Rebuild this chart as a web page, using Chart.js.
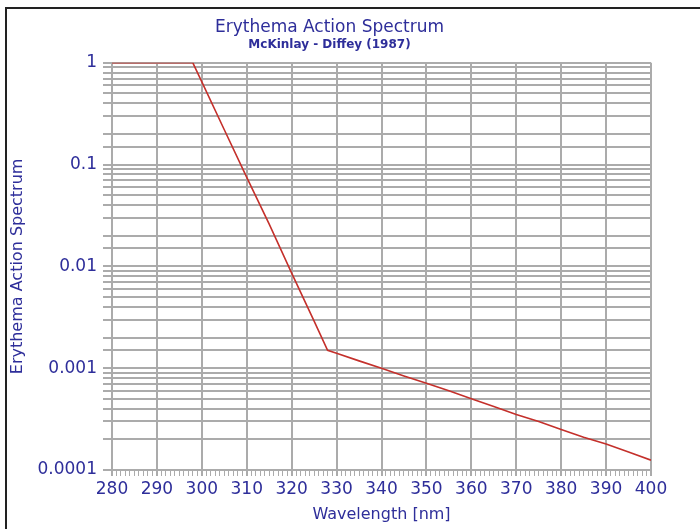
<!DOCTYPE html>
<html>
<head>
<meta charset="utf-8">
<script src="https://cdn.jsdelivr.net/npm/chart.js@4/dist/chart.umd.min.js"></script>
<style>
html,body{margin:0;padding:0;background:#fff;}
#wrap{width:700px;height:529px;position:relative;}
</style>
</head>
<body>
<div id="wrap"><canvas id="c" width="700" height="529"></canvas></div>
<script>
const wavelengths = [280, 285, 290, 295, 298, 300, 305, 310, 315, 320, 325, 328, 330, 335, 340, 345, 350, 355, 360, 365, 370, 375, 380, 385, 390, 395, 400];
const actionValues = [1, 1, 1, 1, 1, 0.65, 0.22, 0.075, 0.026, 0.0086, 0.0029, 0.0015, 0.0014, 0.00118, 0.001, 0.00084, 0.00071, 0.0006, 0.0005, 0.00042, 0.00035, 0.0003, 0.00025, 0.00021, 0.00018, 0.00015, 0.000125];
const yTickLabels = {1: '1', 0.1: '0.1', 0.01: '0.01', 0.001: '0.001', 0.0001: '0.0001'};
const titleText = 'Erythema Action Spectrum';
const subtitleText = 'McKinlay - Diffey (1987)';
const xTitle = 'Wavelength [nm]';
const yTitle = 'Erythema Action Spectrum';

const BLUE = '#2e2e9a';
const GRID = '#ababab';
const FONT = "'DejaVu Sans', sans-serif";

const framePlugin = {
  id: 'frame',
  afterDraw(chart) {
    const ctx = chart.ctx;
    ctx.save();
    ctx.strokeStyle = '#222';
    ctx.lineWidth = 2;
    ctx.beginPath();
    ctx.moveTo(6, 529);
    ctx.lineTo(6, 8);
    ctx.lineTo(700, 8);
    ctx.stroke();
    ctx.restore();
  }
};

function isPow10(v) {
  const l = Math.log10(v);
  return Math.abs(l - Math.round(l)) < 1e-6;
}

new Chart(document.getElementById('c'), {
  type: 'line',
  data: {
    datasets: [{
      data: wavelengths.map((w, i) => ({x: w, y: actionValues[i]})),
      borderColor: '#c4302b',
      borderWidth: 1.6,
      pointRadius: 0,
      tension: 0,
      fill: false
    }]
  },
  options: {
    responsive: false,
    animation: false,
    devicePixelRatio: 1,
    layout: {padding: {left: 8, right: 49, top: 8, bottom: 4}},
    plugins: {
      legend: {display: false},
      tooltip: {enabled: false},
      title: {
        display: true, text: titleText, color: BLUE,
        font: {family: FONT, size: 17, weight: 'normal'},
        padding: {top: 9, bottom: 0}
      },
      subtitle: {
        display: true, text: subtitleText, color: BLUE,
        font: {family: FONT, size: 12, weight: 'bold'},
        padding: {top: 0, bottom: 11}
      }
    },
    scales: {
      x: {
        type: 'linear', min: 280, max: 400,
        afterFit(s) { s.height = 55; },
        ticks: {
          stepSize: 1, autoSkip: false, maxRotation: 0, minRotation: 0,
          color: BLUE, padding: 3,
          font: {family: FONT, size: 17},
          callback: v => (v % 10 === 0 ? String(v) : '')
        },
        grid: {
          color: c => (c.tick && c.tick.value % 10 === 0) ? GRID : 'rgba(0,0,0,0)',
          lineWidth: c => (c.tick && c.tick.value % 10 === 0) ? 2 : 1,
          tickColor: GRID,
          tickWidth: c => (c.tick && c.tick.value % 10 === 0) ? 2 : 1,
          tickLength: 6
        },
        border: {display: true, color: GRID, width: 2},
        title: {
          display: true, text: xTitle, color: BLUE,
          font: {family: FONT, size: 16, weight: 'normal'},
          padding: {top: 0, bottom: 1}
        }
      },
      y: {
        type: 'logarithmic', min: 0.0001, max: 1,
        afterFit(s) { s.width = 104; },
        ticks: {
          autoSkip: false, color: BLUE, padding: 6,
          font: {family: FONT, size: 17},
          callback: v => (isPow10(v) ? (yTickLabels[v] || String(v)) : '')
        },
        grid: {
          color: GRID, lineWidth: 2, tickColor: GRID, tickLength: 9
        },
        border: {display: true, color: GRID, width: 2},
        title: {
          display: true, text: yTitle, color: BLUE,
          font: {family: FONT, size: 16, weight: 'normal'},
          padding: {top: 0, bottom: 0}
        }
      }
    }
  },
  plugins: [framePlugin]
});
</script>
</body>
</html>
